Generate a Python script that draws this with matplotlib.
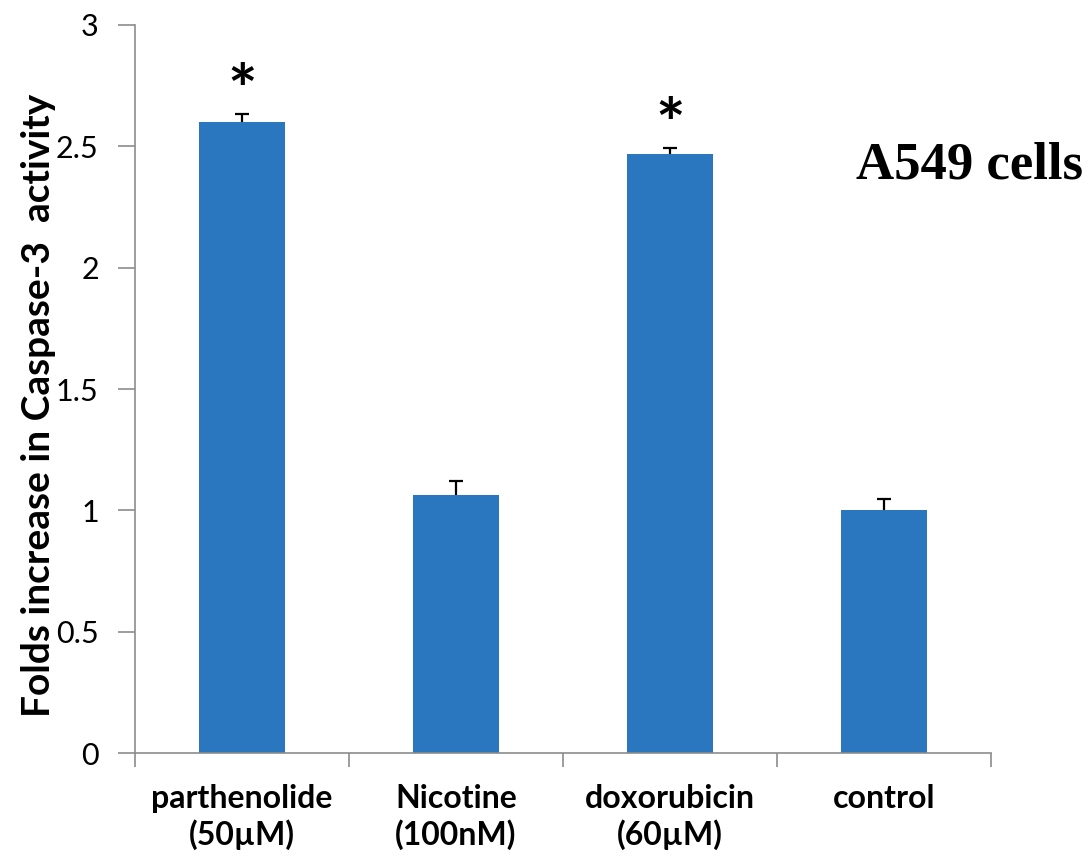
import matplotlib
matplotlib.use("Agg")
import matplotlib.pyplot as plt
import numpy as np

categories = ["parthenolide\n(50µM)", "Nicotine\n(100nM)", "doxorubicin\n(60µM)", "control"]
fold_change = [2.60, 1.065, 2.47, 1.0]
error_upper = [0.035, 0.055, 0.025, 0.045]
significant = [True, False, True, False]
y_ticks = [0, 0.5, 1, 1.5, 2, 2.5, 3]
y_tick_labels = ["0", "0.5", "1", "1.5", "2", "2.5", "3"]

plt.rcParams["font.family"] = ["Lato", "DejaVu Sans"]

fig = plt.figure(figsize=(10.88, 8.56), dpi=100)
ax = fig.add_axes([0.124, 0.1203, 0.787, 0.8505])

x = np.arange(len(categories))
bar_color = "#2A76BF"
ax.bar(x, fold_change, width=0.4, color=bar_color, zorder=2)

# upper-only error bars with a small cap at the top
tops = np.array(fold_change) + np.array(error_upper)
ax.vlines(x, fold_change, tops, colors="black", linewidth=1.6, zorder=3)
ax.plot(x, tops, linestyle="none", marker="_", markersize=10,
        markeredgewidth=1.6, color="black", zorder=3)

for xi, t, s in zip(x, tops, significant):
    if s:
        ax.text(xi, t + 0.08, "*", ha="center", va="center",
                fontsize=50, fontweight="bold")

ax.set_xlim(-0.5, len(categories) - 0.5)
ax.set_ylim(0, 3)
ax.set_yticks(y_ticks)
ax.set_yticklabels(y_tick_labels, fontsize=22)
ax.set_xticks(x)
ax.set_xticklabels(categories, fontsize=23, fontweight="bold", linespacing=1.25)
ax.set_xticks(np.arange(-0.5, len(categories), 1.0), minor=True)
ax.tick_params(axis="x", which="major", length=0, pad=22)
ax.tick_params(axis="x", which="minor", length=10, width=1.2, color="#8c8c8c")
ax.tick_params(axis="y", which="major", length=12, width=1.2, color="#8c8c8c", pad=14)

for side in ("top", "right"):
    ax.spines[side].set_visible(False)
for side in ("left", "bottom"):
    ax.spines[side].set_color("#8c8c8c")
    ax.spines[side].set_linewidth(1.2)

ax.set_ylabel("Folds increase in Caspase-3  activity", fontsize=28,
              fontweight="bold")
ax.yaxis.set_label_coords(-0.092, 0.478)

fig.text(0.787, 0.807, "A549 cells", fontsize=38, fontweight="bold",
         family=["Liberation Serif"], ha="left", va="center")

fig.savefig("out.png", dpi=100)
